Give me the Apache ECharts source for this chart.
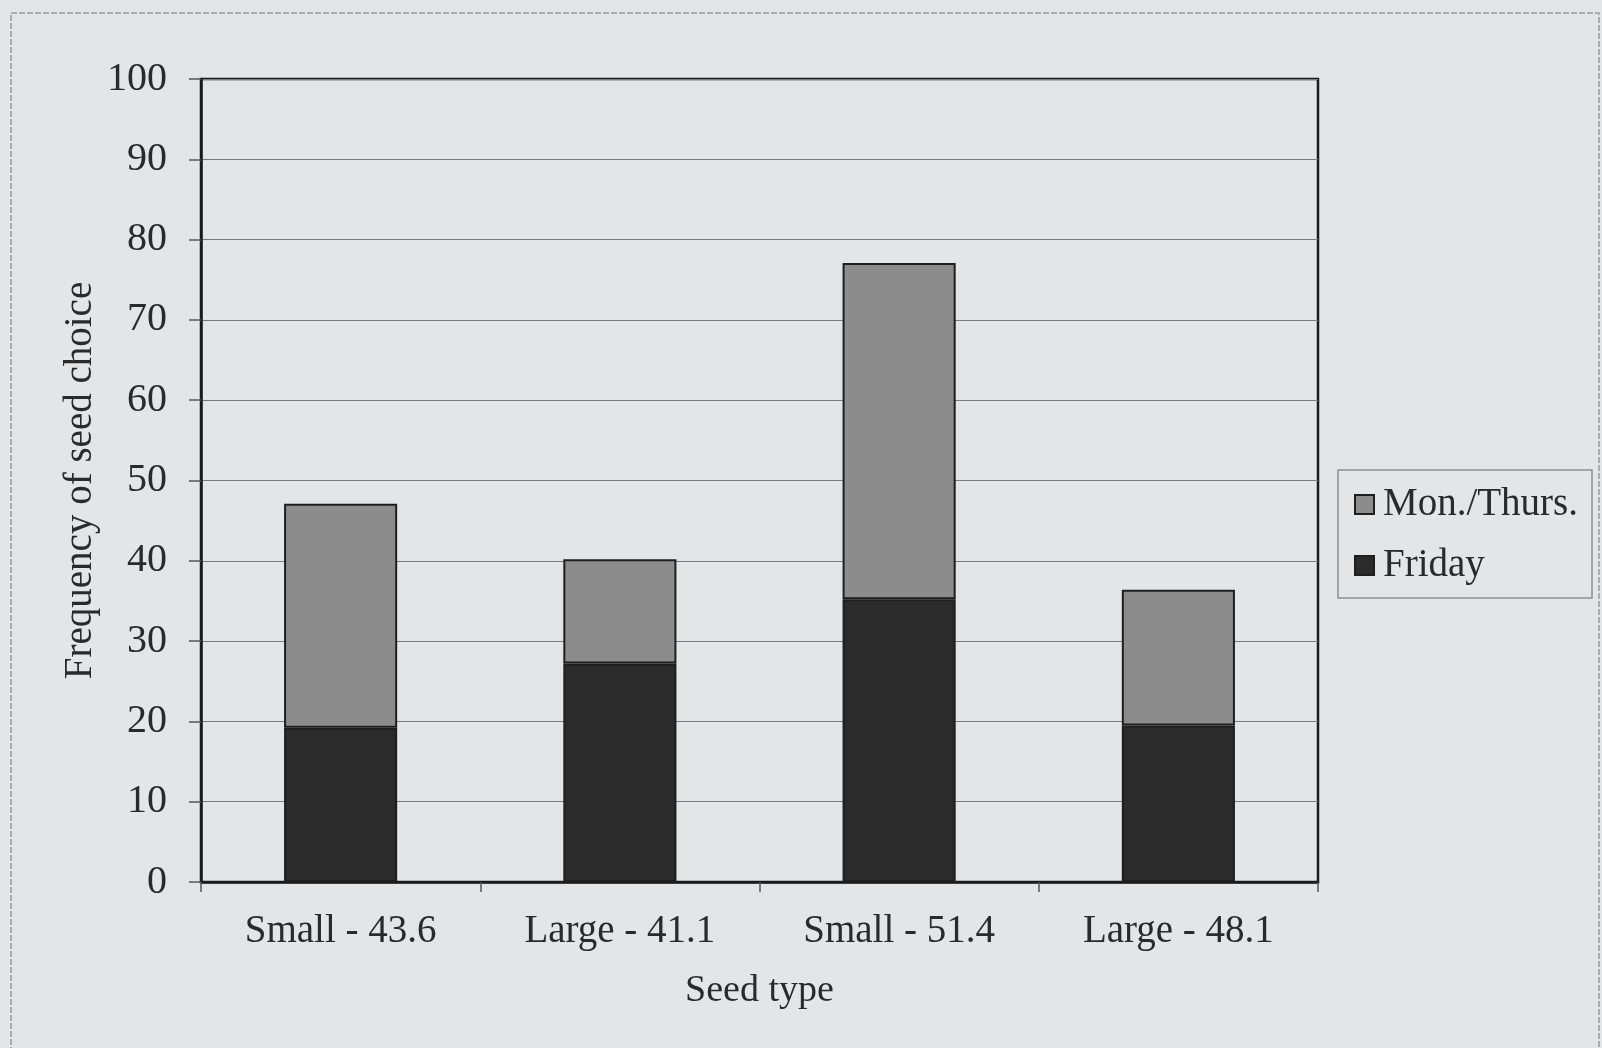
<!DOCTYPE html>
<html><head><meta charset="utf-8">
<script src="https://cdn.jsdelivr.net/npm/echarts@6/dist/echarts.min.js"></script>
<style>html,body{margin:0;padding:0;background:#e3e5e6;}#c{width:1602px;height:1048px;}</style>
</head><body><div id="c"></div>
<script>
const categories = ['Small - 43.6', 'Large - 41.1', 'Small - 51.4', 'Large - 48.1'];
const friday = [19.2, 27.2, 35.2, 19.5];
const monThurs = [27.9, 13.0, 41.9, 16.9];
const yTicks = [0, 10, 20, 30, 40, 50, 60, 70, 80, 90, 100];
const seriesNames = ['Mon./Thurs.', 'Friday'];

const font = 'Liberation Serif, Times New Roman, serif';
const chart = echarts.init(document.getElementById('c'), null, {renderer: 'canvas'});
chart.setOption({
  backgroundColor: '#e3e5e6',
  animation: false,
  textStyle: {fontFamily: font},
  graphic: [{
    type: 'rect', shape: {x: 11, y: 13, width: 1588, height: 1040},
    style: {fill: 'none', stroke: '#9a9a9a', lineWidth: 1.5, lineDash: [6, 2]}, silent: true
  }],
  grid: {left: 201, right: 284, top: 79, bottom: 166, show: true, borderColor: '#1a1a1a', borderWidth: 2.5, backgroundColor: 'transparent'},
  legend: {
    data: seriesNames, orient: 'vertical', left: 1338, top: 470,
    itemWidth: 19, itemHeight: 19, itemGap: 22,
    padding: [15, 14, 13, 16],
    borderColor: '#8e8e8e', borderWidth: 1.5,
    icon: 'rect',
    textStyle: {fontFamily: font, fontSize: 39, color: '#2a2a2a', padding: [0, 0, 0, 4]}
  },
  xAxis: {
    type: 'category', data: categories,
    name: 'Seed type', nameLocation: 'middle', nameGap: 90, nameMoveOverlap: false,
    nameTextStyle: {fontFamily: font, fontSize: 38, color: '#2a2a2a'},
    axisLine: {lineStyle: {color: '#1a1a1a', width: 2.5}},
    axisTick: {show: true, length: 10, lineStyle: {color: '#555', width: 1.5}},
    axisLabel: {fontFamily: font, fontSize: 39, color: '#2a2a2a', margin: 30}
  },
  yAxis: {
    type: 'value', min: yTicks[0], max: yTicks[yTicks.length - 1], interval: 10,
    name: 'Frequency of seed choice', nameLocation: 'middle', nameGap: 101, nameRotate: 90, nameMoveOverlap: false,
    nameTextStyle: {fontFamily: font, fontSize: 39, color: '#2a2a2a'},
    axisLine: {show: true, lineStyle: {color: '#1a1a1a', width: 2.5}},
    axisTick: {show: true, length: 12, lineStyle: {color: '#555', width: 1.5}},
    axisLabel: {fontFamily: font, fontSize: 40, color: '#2a2a2a', margin: 34},
    splitLine: {lineStyle: {color: '#7a7a7a', width: 1.2}}
  },
  series: [
    {name: 'Friday', type: 'bar', stack: 's', data: friday, barWidth: '40.5%',
     itemStyle: {color: '#2b2b2b', borderColor: '#1e1e1e', borderWidth: 2}},
    {name: 'Mon./Thurs.', type: 'bar', stack: 's', data: monThurs, barWidth: '40.5%',
     itemStyle: {color: '#8c8c8c', borderColor: '#1e1e1e', borderWidth: 2}}
  ]
});
</script></body></html>
